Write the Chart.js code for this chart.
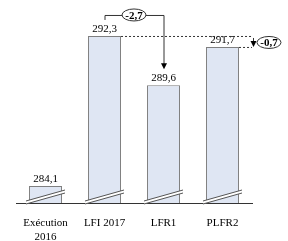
<!DOCTYPE html>
<html>
<head>
<meta charset="utf-8">
<script src="https://cdn.jsdelivr.net/npm/chart.js@4"></script>
<style>
  html, body { margin: 0; padding: 0; background: #fff; }
  canvas { display: block; }
</style>
</head>
<body>
<canvas id="chart" width="288" height="241"></canvas>
<script>

  var categories = [ [ 'Exécution', '2016' ], 'LFI 2017', 'LFR1', 'PLFR2' ];
  var values = [ 284.1, 292.3, 289.6, 291.7 ];
  var deltaLabels = [ '-2,7', '-0,7' ];

  var FONT = '"Liberation Serif", "DejaVu Serif", serif';

  var fmt = function( v ) {
    return v.toFixed( 1 ).replace( '.', ',' );
  };

  var drawEllipse = function( ctx, cx, cy, rx, ry, text ) {
    ctx.save();
    ctx.beginPath();
    ctx.ellipse( cx, cy, rx, ry, 0, 0, Math.PI * 2 );
    ctx.fillStyle = '#fff';
    ctx.fill();
    ctx.lineWidth = 1;
    ctx.strokeStyle = '#333';
    ctx.stroke();
    ctx.fillStyle = '#000';
    ctx.font = 'bold 11px ' + FONT;
    ctx.textAlign = 'center';
    ctx.textBaseline = 'middle';
    ctx.fillText( text, cx, cy + 1 );
    ctx.restore();
  };

  var arrowDown = function( ctx, x, y ) {
    ctx.beginPath();
    ctx.moveTo( x, y );
    ctx.lineTo( x - 3, y - 6 );
    ctx.lineTo( x + 3, y - 6 );
    ctx.closePath();
    ctx.fill();
  };

  var annotations = {
    id: 'annotations',
    afterDatasetsDraw: function( chart ) {

      var ctx = chart.ctx;
      var bars = chart.getDatasetMeta( 0 ).data;
      var base = chart.scales.y.bottom;

      ctx.save();

      // break marks at the bottom of each bar
      bars.forEach( function( b ) {
        var x0 = b.x - b.width / 2 - 3;
        var x1 = b.x + b.width / 2 + 3;
        var y0 = base - 2;
        var y1 = base - 13;
        ctx.beginPath();
        ctx.moveTo( x0, y0 );
        ctx.lineTo( x1, y1 );
        ctx.lineTo( x1, y1 + 3 );
        ctx.lineTo( x0, y0 + 3 );
        ctx.closePath();
        ctx.fillStyle = '#fff';
        ctx.fill();
        ctx.strokeStyle = '#555';
        ctx.lineWidth = 1;
        ctx.beginPath();
        ctx.moveTo( x0, y0 );
        ctx.lineTo( x1, y1 );
        ctx.moveTo( x0, y0 + 3 );
        ctx.lineTo( x1, y1 + 3 );
        ctx.stroke();
      } );

      // value labels
      ctx.fillStyle = '#000';
      ctx.font = '11px ' + FONT;
      ctx.textAlign = 'center';
      ctx.textBaseline = 'alphabetic';
      bars.forEach( function( b, i ) {
        ctx.fillText( fmt( values[ i ] ), b.x, b.y - 4 );
      } );

      // bracket LFI 2017 -> LFR1
      var a = bars[ 1 ];
      var c = bars[ 2 ];
      var yTop = a.y - 21;
      ctx.strokeStyle = '#333';
      ctx.fillStyle = '#000';
      ctx.beginPath();
      ctx.moveTo( a.x + 0.5, a.y - 16 );
      ctx.lineTo( a.x + 0.5, yTop + 0.5 );
      ctx.lineTo( c.x + 0.5, yTop + 0.5 );
      ctx.lineTo( c.x + 0.5, c.y - 19 );
      ctx.stroke();
      arrowDown( ctx, c.x + 0.5, c.y - 16 );
      drawEllipse( ctx, ( a.x + c.x ) / 2, yTop, 12, 6, deltaLabels[ 0 ] );

      // dashed reference lines LFI 2017 -> PLFR2
      var p = bars[ 3 ];
      var xEnd = chart.chartArea.right;
      ctx.setLineDash( [ 2, 2 ] );
      ctx.beginPath();
      ctx.moveTo( a.x + a.width / 2, a.y + 0.5 );
      ctx.lineTo( xEnd, a.y + 0.5 );
      ctx.moveTo( p.x + p.width / 2, p.y + 0.5 );
      ctx.lineTo( xEnd, p.y + 0.5 );
      ctx.stroke();
      ctx.setLineDash( [] );

      var xa = xEnd + 1.5;
      ctx.beginPath();
      ctx.moveTo( xa, a.y + 2 );
      ctx.lineTo( xa, p.y - 4 );
      ctx.stroke();
      arrowDown( ctx, xa, p.y );
      drawEllipse( ctx, xa + 15.5, ( a.y + p.y ) / 2 + 1, 12, 6, deltaLabels[ 1 ] );

      ctx.restore();

    }
  };

  new Chart( document.getElementById( 'chart' ), {
    type: 'bar',
    data: {
      labels: categories,
      datasets: [
        {
          data: values,
          backgroundColor: '#dfe6f3',
          borderColor: '#7f7f7f',
          borderWidth: { top: 1, left: 1, right: 1, bottom: 0 },
          borderSkipped: false,
          categoryPercentage: 1,
          barPercentage: 0.56
        }
      ]
    },
    options: {
      responsive: false,
      animation: false,
      layout: { padding: { left: 16, right: 36, top: 10, bottom: 0 } },
      plugins: {
        legend: { display: false },
        tooltip: { enabled: false }
      },
      scales: {
        x: {
          grid: { display: false },
          border: { display: true, color: '#333', width: 1 },
          ticks: {
            color: '#000',
            padding: 6,
            font: { family: FONT, size: 11 },
            maxRotation: 0
          },
          afterFit: function( scale ) {
            scale.height = 38;
          }
        },
        y: {
          display: false,
          min: 283.17,
          max: 293.72
        }
      }
    },
    plugins: [ annotations ]
  } );

</script>
</body>
</html>
